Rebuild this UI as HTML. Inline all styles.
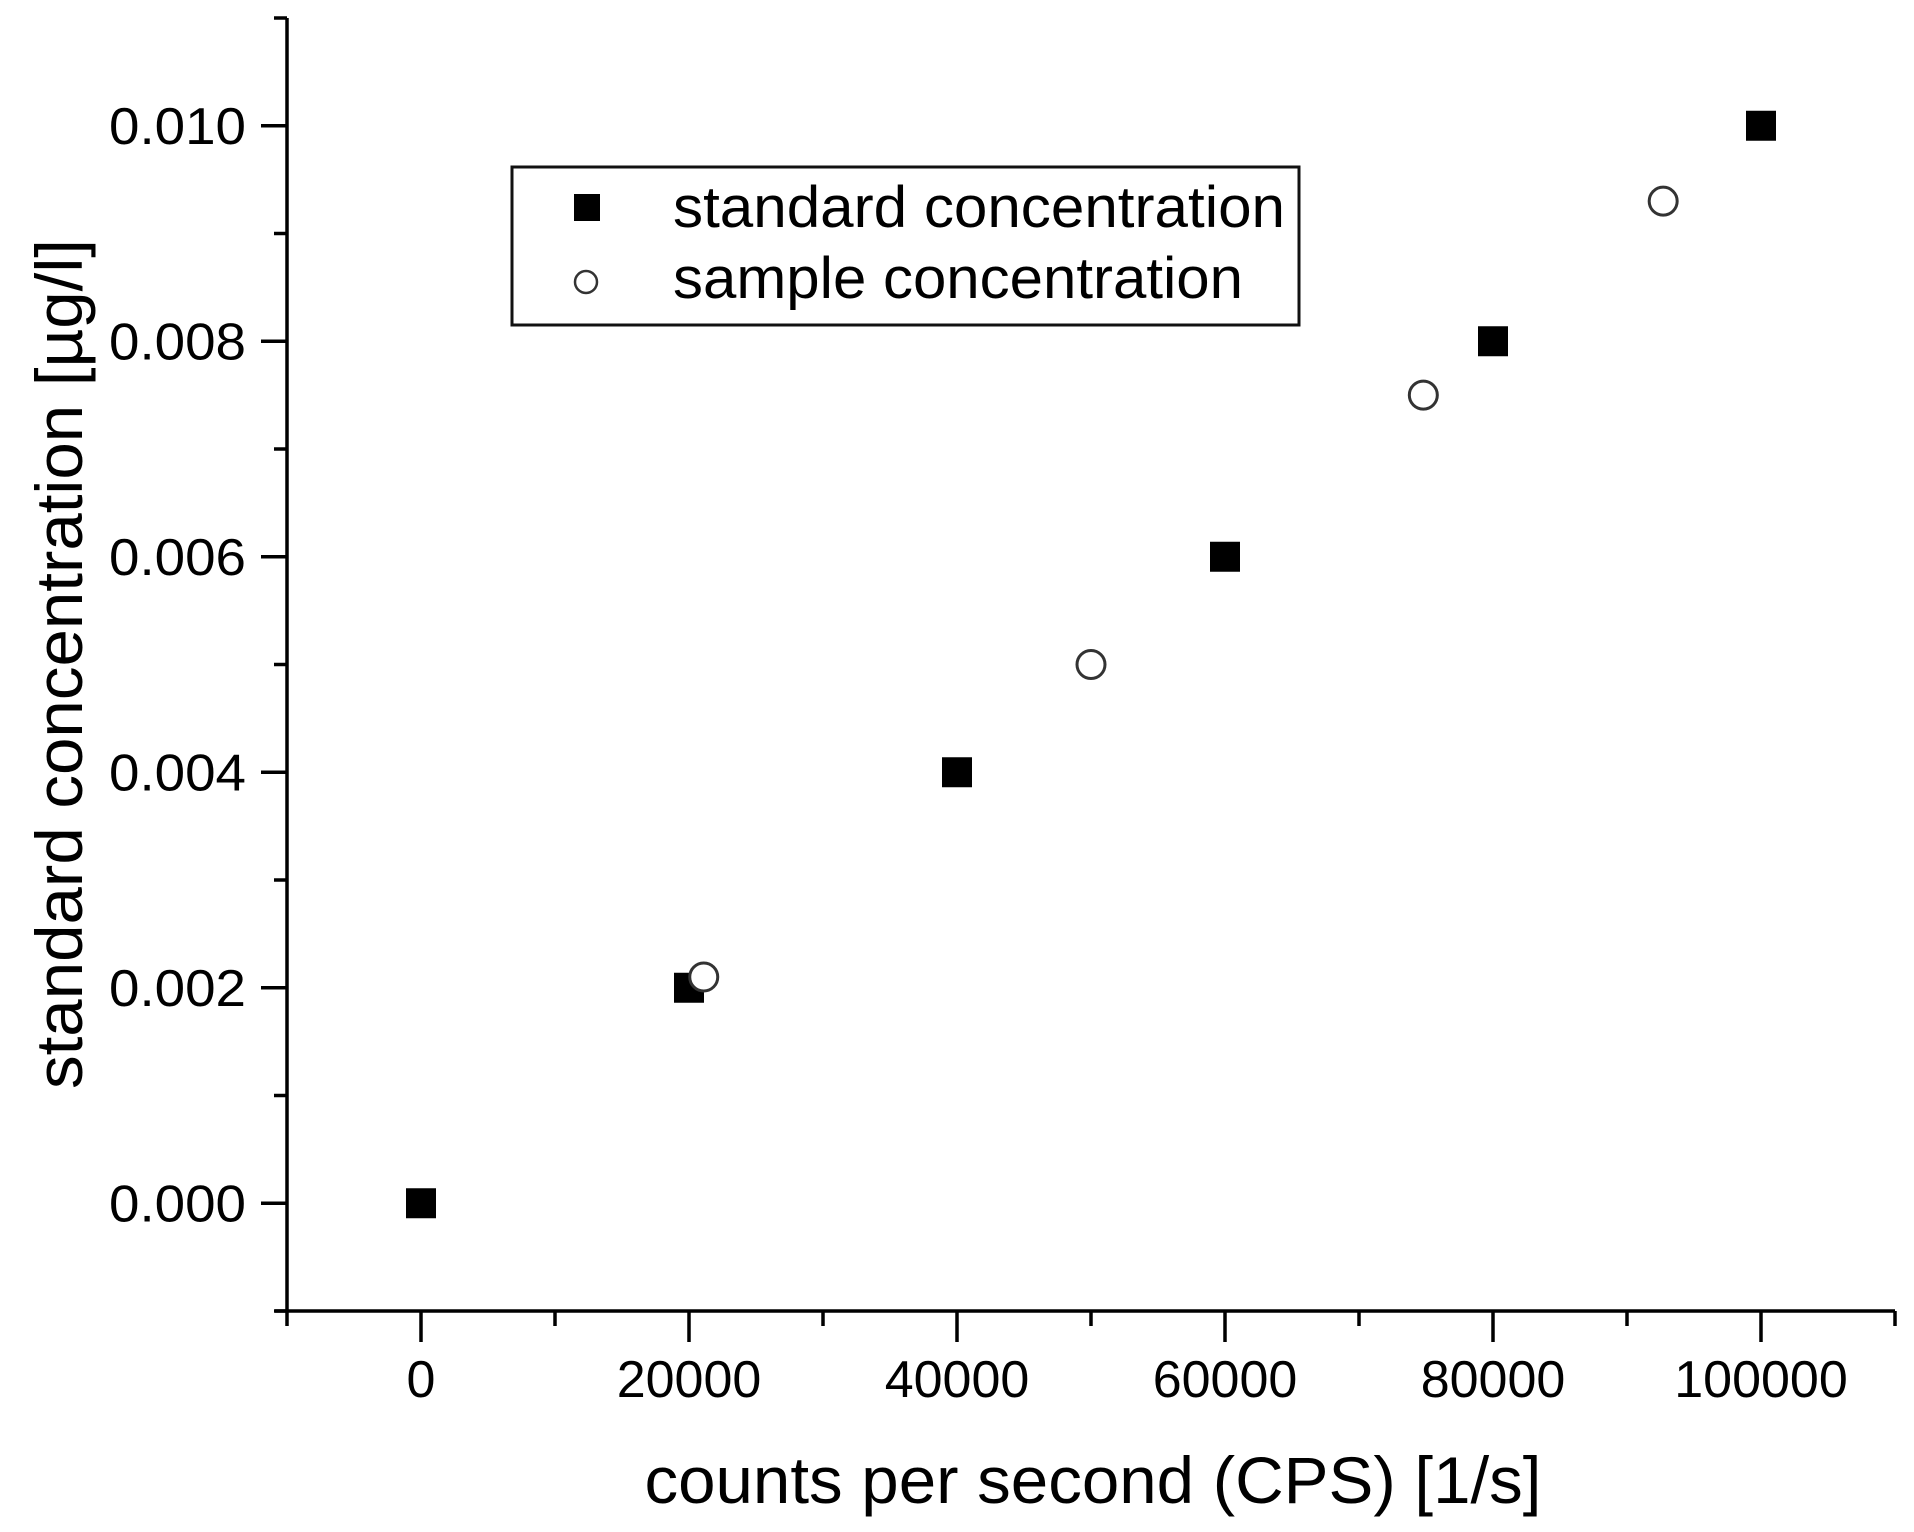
<!DOCTYPE html>
<html><head><meta charset="utf-8"><style>
html,body{margin:0;padding:0;background:#fff;}
svg{display:block;font-family:"Liberation Sans",Arial,sans-serif;}
</style></head><body>
<svg id="chart" width="1914" height="1532" viewBox="0 0 1914 1532" xmlns="http://www.w3.org/2000/svg">
<g id="axes"></g>
<g id="marks"></g>
<g id="legend">
  <rect x="512" y="167" width="787" height="158" fill="#fff" stroke="#111" stroke-width="3"/>
  <rect x="574" y="194" width="26" height="27" fill="#000"/>
  <text x="673" y="227" font-size="58" textLength="612" lengthAdjust="spacingAndGlyphs">standard concentration</text>
  <circle cx="586" cy="282" r="11" fill="#fff" stroke="#333" stroke-width="2.5"/>
  <text x="673" y="298" font-size="58" textLength="570" lengthAdjust="spacingAndGlyphs">sample concentration</text>
</g>
<text x="1093" y="1503" font-size="66" text-anchor="middle" textLength="897" lengthAdjust="spacingAndGlyphs">counts per second (CPS) [1/s]</text>
<text transform="translate(82,664) rotate(-90)" font-size="66" text-anchor="middle" textLength="850" lengthAdjust="spacingAndGlyphs">standard concentration [µg/l]</text>
</svg>
<script>
const standardX = [0, 20000, 40000, 60000, 80000, 100000];
const standardY = [0.000, 0.002, 0.004, 0.006, 0.008, 0.010];
const sampleX = [21100, 50000, 74800, 92700];
const sampleY = [0.0021, 0.0050, 0.0075, 0.0093];
const xTicks = [0, 20000, 40000, 60000, 80000, 100000];
const xTickLabels = ["0", "20000", "40000", "60000", "80000", "100000"];
const yTicks = [0.000, 0.002, 0.004, 0.006, 0.008, 0.010];
const yTickLabels = ["0.000", "0.002", "0.004", "0.006", "0.008", "0.010"];
const xDomain = [-10000, 110000];
const yDomain = [-0.001, 0.011];

const PX0 = 287, PX1 = 1895, PY0 = 1311, PY1 = 18;
function sx(v){ return PX0 + (v - xDomain[0]) / (xDomain[1] - xDomain[0]) * (PX1 - PX0); }
function sy(v){ return PY0 - (v - yDomain[0]) / (yDomain[1] - yDomain[0]) * (PY0 - PY1); }
const NS = "http://www.w3.org/2000/svg";
function mk(tag, attrs, parent){
  const e = document.createElementNS(NS, tag);
  for (const k in attrs) e.setAttribute(k, attrs[k]);
  parent.appendChild(e);
  return e;
}
const axes = document.getElementById('axes');
const marks = document.getElementById('marks');

let l = mk('line', {x1:PX0, y1:PY1, x2:PX0, y2:PY0, stroke:'#000', 'stroke-width':3.5}, axes);


l = mk('line', {x1:PX0-12, y1:PY0, x2:PX1, y2:PY0, stroke:'#000', 'stroke-width':3.5}, axes);



for (let v = xDomain[0]; v <= xDomain[1] + 1; v += 10000) {
  const major = xTicks.includes(v);
  const t = mk('line', {x1:sx(v), y1:PY0, x2:sx(v), y2:PY0 + (major ? 31 : 15), stroke:'#000', 'stroke-width':3.5}, axes);
  
  
}
for (let i = -1; i <= 11; i++) {
  const v = i / 1000;
  const major = (i % 2 === 0 && i >= 0 && i <= 10);
  const t = mk('line', {x1:PX0 - (major ? 26 : 13), y1:sy(v), x2:PX0, y2:sy(v), stroke:'#000', 'stroke-width':3.5}, axes);
  
  
}
xTicks.forEach((v, i) => {
  const t = mk('text', {x:sx(v), y:1397, 'font-size':52, 'text-anchor':'middle'}, axes);
  t.textContent = xTickLabels[i];
  
  
});
yTicks.forEach((v, i) => {
  const t = mk('text', {x:246, y:sy(v) + 18, 'font-size':52, 'text-anchor':'end', textLength:137, lengthAdjust:'spacingAndGlyphs'}, axes);
  t.textContent = yTickLabels[i];
  
  
});
standardX.forEach((v, i) => {
  const r = mk('rect', {x:sx(v) - 15, y:sy(standardY[i]) - 15, width:30, height:30, fill:'#000'}, marks);
  
  
});
sampleX.forEach((v, i) => {
  const c = mk('circle', {cx:sx(v), cy:sy(sampleY[i]), r:14, fill:'#fff', stroke:'#333', 'stroke-width':3}, marks);
  
  
});
</script>
</body></html>
